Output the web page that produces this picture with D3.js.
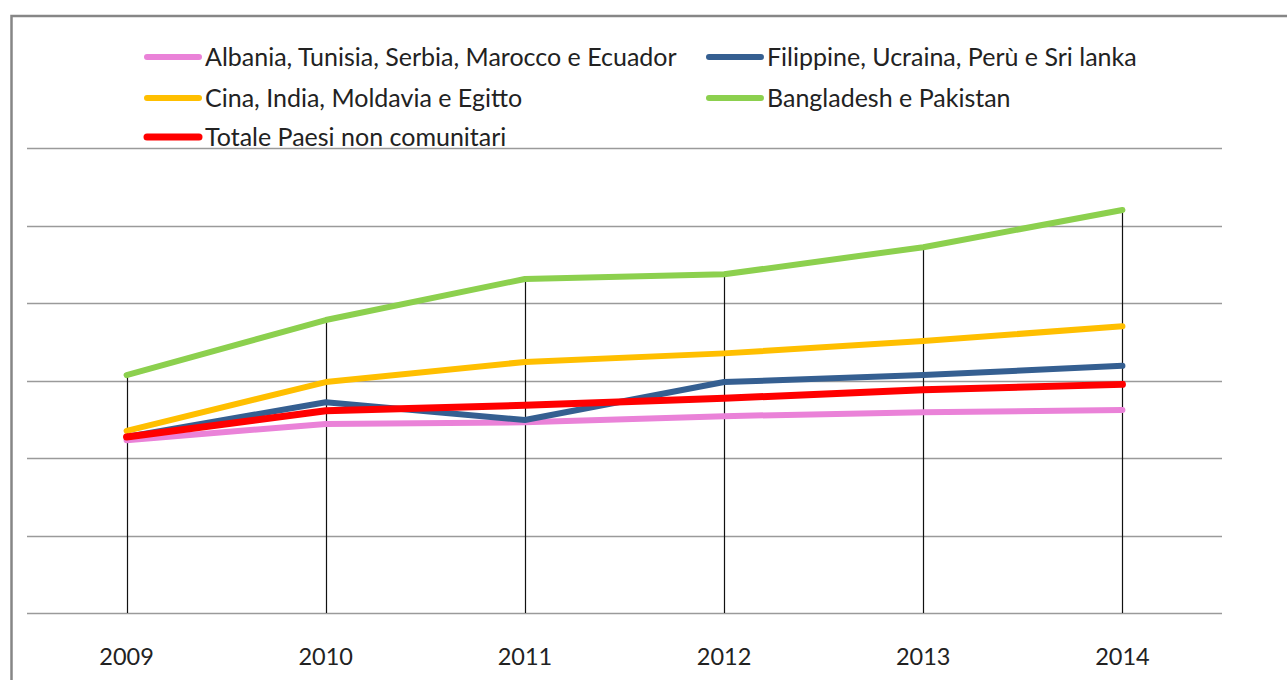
<!DOCTYPE html>
<html>
<head>
<meta charset="utf-8">
<script src="https://cdn.jsdelivr.net/npm/d3@7"></script>
<style>
  body { margin: 0; background: #fff; }
  svg { display: block; font-family: "Lato", "Open Sans", sans-serif; }
</style>
</head>
<body>
<svg id="chart" width="1287" height="680"></svg>
<script>
var years = ['2009', '2010', '2011', '2012', '2013', '2014'];

var albania = [2.23, 2.44, 2.46, 2.54, 2.59, 2.62];
var filippine = [2.27, 2.72, 2.49, 2.98, 3.07, 3.19];
var cina = [2.35, 2.98, 3.24, 3.35, 3.51, 3.70];
var bangladesh = [3.07, 3.78, 4.31, 4.37, 4.72, 5.20];
var totale = [2.27, 2.61, 2.68, 2.77, 2.88, 2.95];

var names = [
    'Albania, Tunisia, Serbia, Marocco e Ecuador',
    'Filippine, Ucraina, Perù e Sri lanka',
    'Cina, India, Moldavia e Egitto',
    'Bangladesh e Pakistan',
    'Totale Paesi non comunitari'
];
var gridTicks = [0, 1, 2, 3, 4, 5, 6];

var series = [
    { name: names[0], values: albania, color: '#ea82d8', width: 6 },
    { name: names[1], values: filippine, color: '#355f91', width: 6 },
    { name: names[2], values: cina, color: '#ffbf00', width: 6 },
    { name: names[3], values: bangladesh, color: '#8cd04e', width: 6 },
    { name: names[4], values: totale, color: '#ff0000', width: 7 }
];

var svg = d3.select('#chart');

var x = d3.scaleBand().domain(years).range([27, 1222]);
var y = d3.scaleLinear().domain([0, 6]).range([613, 148]);
var cx = function(d) { return x(d) + x.bandwidth() / 2; };

// chart border
svg.append('rect')
    .attr('x', 11.5).attr('y', 16)
    .attr('width', 1300).attr('height', 700)
    .attr('fill', 'none')
    .attr('stroke', '#868686')
    .attr('stroke-width', 2.5);

// horizontal gridlines
svg.append('g')
    .selectAll('line')
    .data(gridTicks)
    .join('line')
    .attr('x1', 27).attr('x2', 1222)
    .attr('y1', function(d) { return Math.round(y(d)) + 0.5; })
    .attr('y2', function(d) { return Math.round(y(d)) + 0.5; })
    .attr('stroke', '#9a9a9a')
    .attr('stroke-width', 1.5);

// drop lines from highest point to the axis
svg.append('g')
    .selectAll('line')
    .data(years)
    .join('line')
    .attr('x1', function(d) { return Math.round(cx(d)) + 0.5; })
    .attr('x2', function(d) { return Math.round(cx(d)) + 0.5; })
    .attr('y1', function(d, i) { return y(d3.max(series, function(s) { return s.values[i]; })); })
    .attr('y2', y(0))
    .attr('stroke', '#111')
    .attr('stroke-width', 1.2);

var line = d3.line()
    .x(function(d, i) { return cx(years[i]); })
    .y(function(d) { return y(d); });

svg.append('g')
    .selectAll('path')
    .data(series)
    .join('path')
    .attr('d', function(d) { return line(d.values); })
    .attr('fill', 'none')
    .attr('stroke', function(d) { return d.color; })
    .attr('stroke-width', function(d) { return d.width; })
    .attr('stroke-linejoin', 'round')
    .attr('stroke-linecap', 'round');

// x labels
svg.append('g')
    .selectAll('text')
    .data(years)
    .join('text')
    .attr('x', cx)
    .attr('y', 665)
    .attr('text-anchor', 'middle')
    .attr('font-size', 23.5)
    .attr('fill', '#222')
    .text(function(d) { return d; });

// legend
var legendPos = [[147, 57], [709, 57], [147, 98], [709, 98], [147, 137]];
var legend = svg.append('g')
    .selectAll('g')
    .data(series)
    .join('g')
    .attr('transform', function(d, i) { return 'translate(' + legendPos[i][0] + ',' + legendPos[i][1] + ')'; });

legend.append('line')
    .attr('x1', 0).attr('x2', 52)
    .attr('stroke', function(d) { return d.color; })
    .attr('stroke-width', function(d) { return d.width; })
    .attr('stroke-linecap', 'round');

legend.append('text')
    .attr('x', 58)
    .attr('dy', '0.35em')
    .attr('font-size', 25)
    .attr('fill', '#222')
    .text(function(d) { return d.name; });
</script>
</body>
</html>
